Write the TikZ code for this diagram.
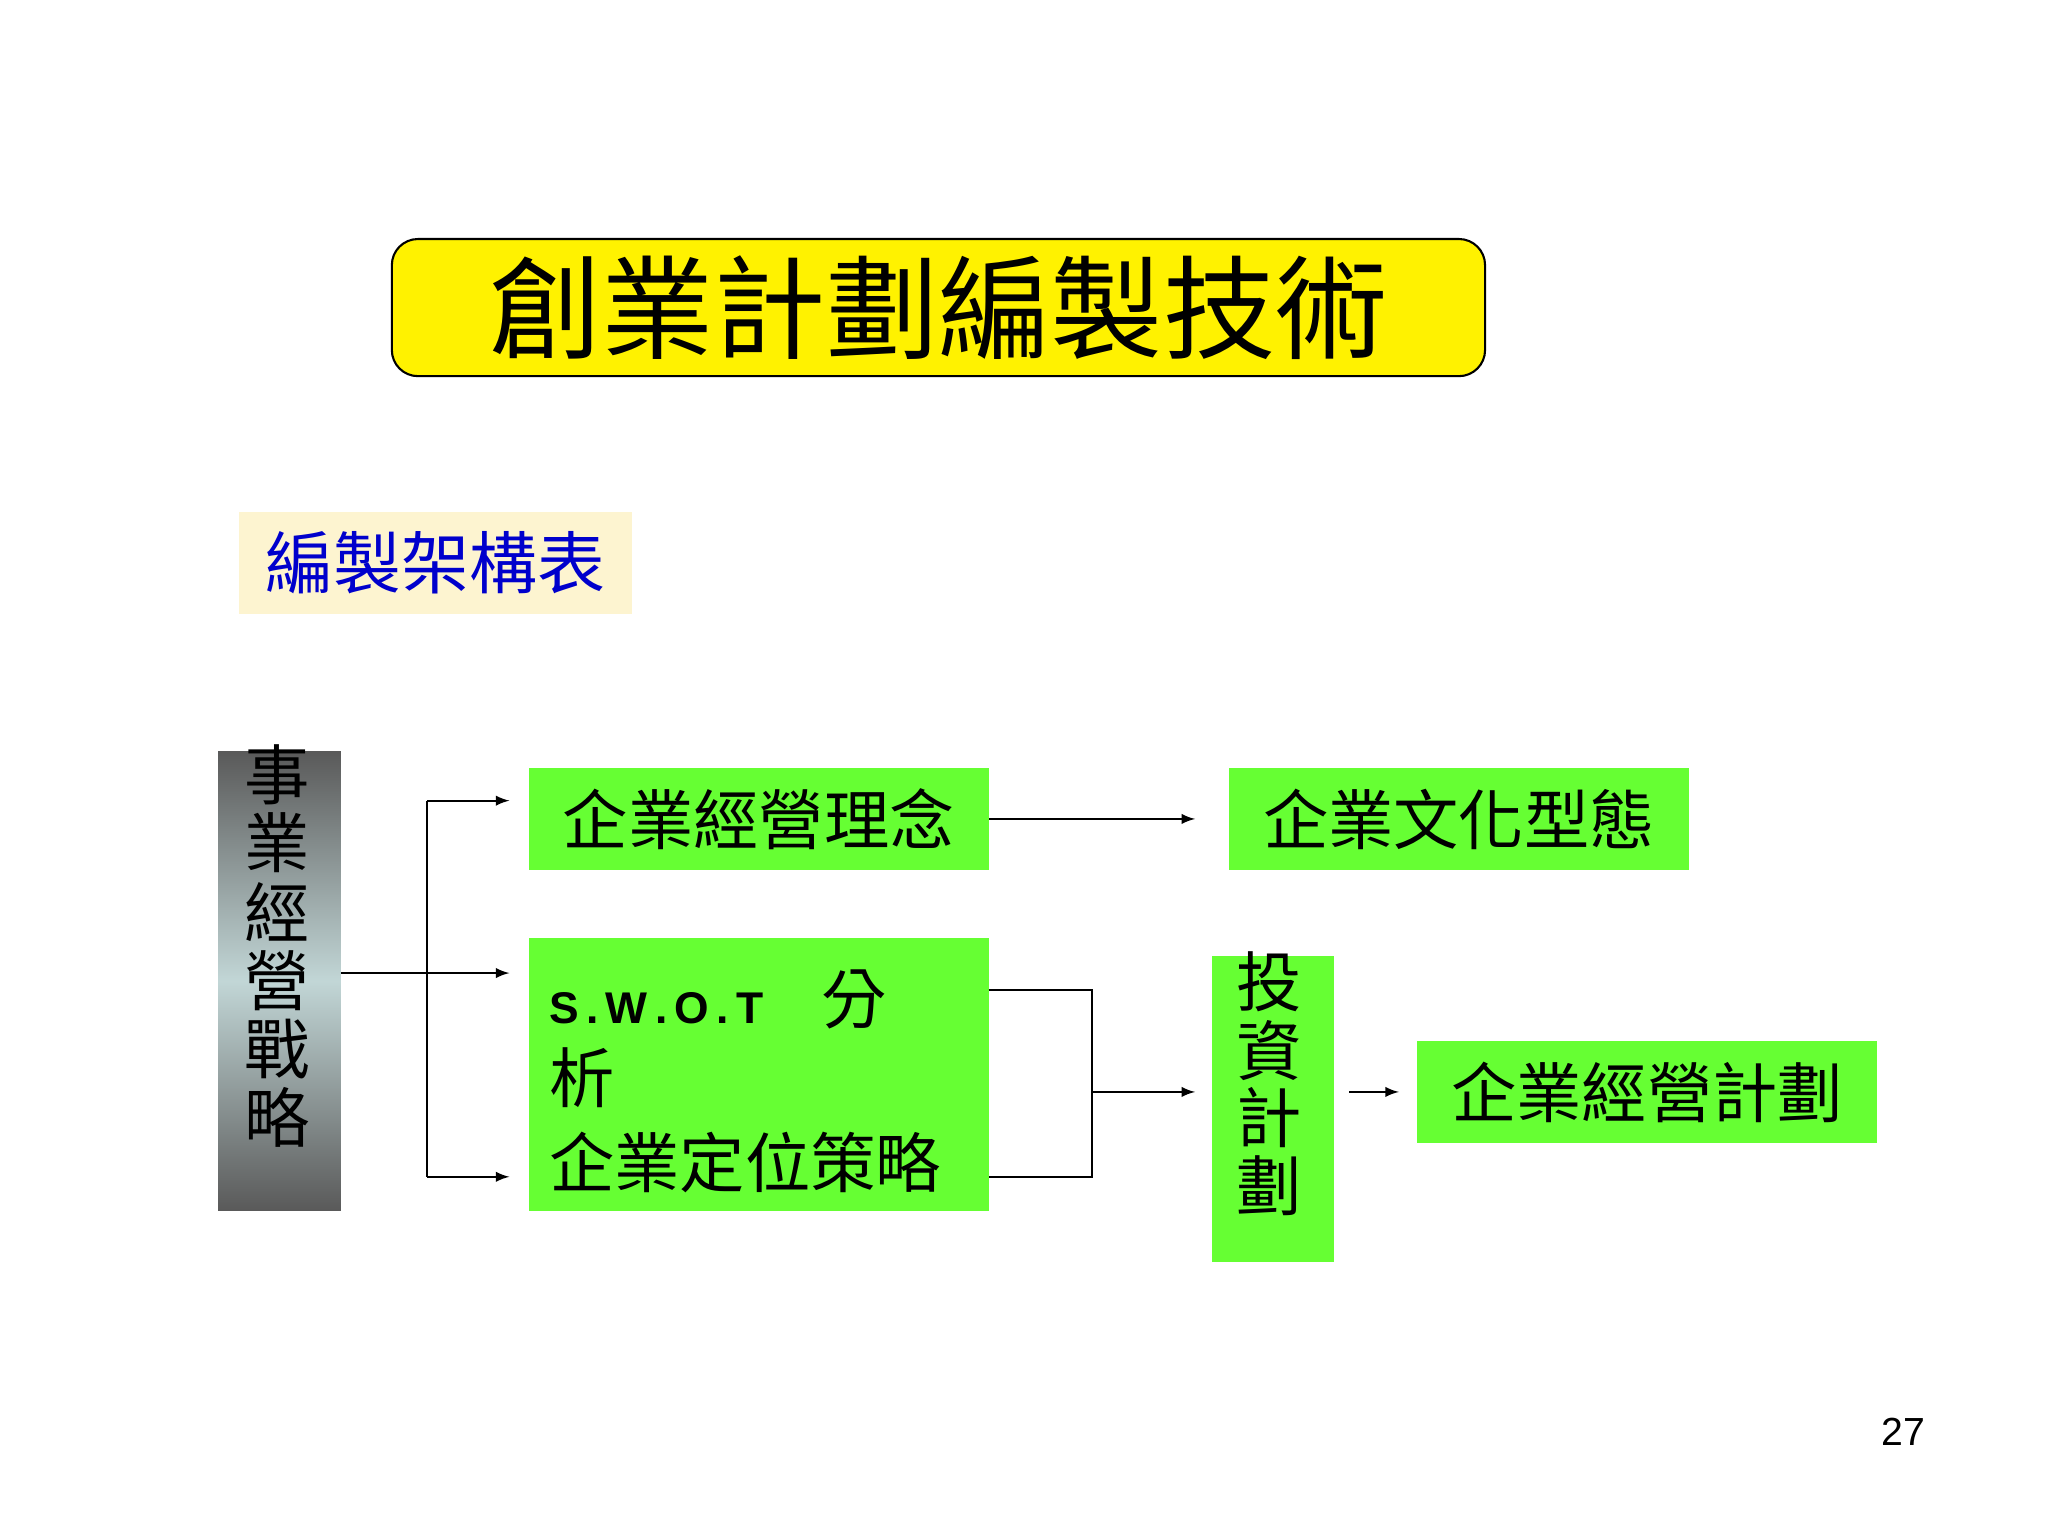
\documentclass[tikz,border=0pt]{standalone}
\usepackage{fontspec}
\setmainfont{Noto Sans CJK TC}
\newfontfamily\cjk{Noto Sans CJK TC}
\newfontfamily\latinsans{Liberation Sans}
\begin{document}
\begin{tikzpicture}[x=0.5pt,y=-0.5pt,
  gbox/.style={fill=green!55!lime!90!yellow, draw=none},
  conn/.style={line width=0.8pt},
  arr/.style={conn,-latex},
  ctext/.style={font=\fontsize{25}{25}\selectfont\cjk, inner sep=0pt}]
\definecolor{grn}{HTML}{66FF33}
\useasboundingbox (0,0) rectangle (1568,1176);
\fill[white] (0,0) rectangle (1568,1176);
% title
\node[draw=black, line width=0.8pt, fill=yellow, rounded corners=10pt, minimum width=418.5pt, minimum height=52.5pt, inner sep=0pt] (title) at (718.5,235.5) {\fontsize{43}{43}\selectfont\cjk 創業計劃編製技術};
% subtitle
\node[fill={rgb,255:red,253;green,244;blue,208}, minimum width=150.5pt, minimum height=39pt, inner sep=0pt] (sub) at (333.5,431) {\fontsize{26}{26}\selectfont\color{blue!80!black}\cjk 編製架構表};
% strategy
\shade[top color=gray!70!black, bottom color=gray!70!black, middle color=cyan!20!gray!40] (167,575) rectangle (261,927);
\node[minimum width=47pt, minimum height=176pt, inner sep=0pt] (st) at (214,751) {};
\foreach \c [count=\i] in {事,業,經,營,戰,略}
  \node[ctext] at (212,593+52.5*\i-52.5) {\c};
% green boxes
\node[fill=grn, minimum width=176pt, minimum height=39pt, inner sep=0pt] (a) at (581,627) {\fontsize{25}{25}\selectfont\cjk 企業經營理念};
\node[fill=grn, minimum width=176pt, minimum height=39pt, inner sep=0pt] (b) at (1117,627) {\fontsize{25}{25}\selectfont\cjk 企業文化型態};
\node[fill=grn, minimum width=176pt, minimum height=104.5pt, inner sep=0pt] (c) at (581,822.5) {};
\node[anchor=west, inner sep=0pt] at (420,765) {\fontsize{17}{17}\selectfont\latinsans\bfseries S\,.\,W\,.\,O\,.\,T\hspace{22pt}\fontsize{25}{25}\selectfont\cjk\mdseries 分};
\node[anchor=west, inner sep=0pt] at (420,825) {\fontsize{25}{25}\selectfont\cjk 析};
\node[anchor=west, inner sep=0pt] at (420,890) {\fontsize{25}{25}\selectfont\cjk 企業定位策略};
\node[fill=grn, minimum width=46.5pt, minimum height=117pt, inner sep=0pt] (d) at (974.5,849) {};
\foreach \c [count=\i] in {投,資,計,劃}
  \node[ctext] at (972,752+52*\i-52) {\c};
\node[fill=grn, minimum width=176pt, minimum height=39pt, inner sep=0pt] (e) at (1261,836) {\fontsize{25}{25}\selectfont\cjk 企業經營計劃};
% connectors
\coordinate (j) at (327,745);
\draw[arr] (261,745) -- (390,745);
\draw[conn] (327,613) -- (327,901);
\draw[arr] (327,613) -- (390,613);
\draw[arr] (327,901) -- (390,901);
\draw[arr] (a.east) -- (915,627);
\draw[conn] (757,758) -- (836,758) -- (836,901) -- (757,901);
\draw[arr] (836,836) -- (915,836);
\draw[arr] (1033,836) -- (1071,836);
\node (pg) at (1457,1096) {\fontsize{15}{15}\selectfont\latinsans 27};
\end{tikzpicture}
\end{document}
